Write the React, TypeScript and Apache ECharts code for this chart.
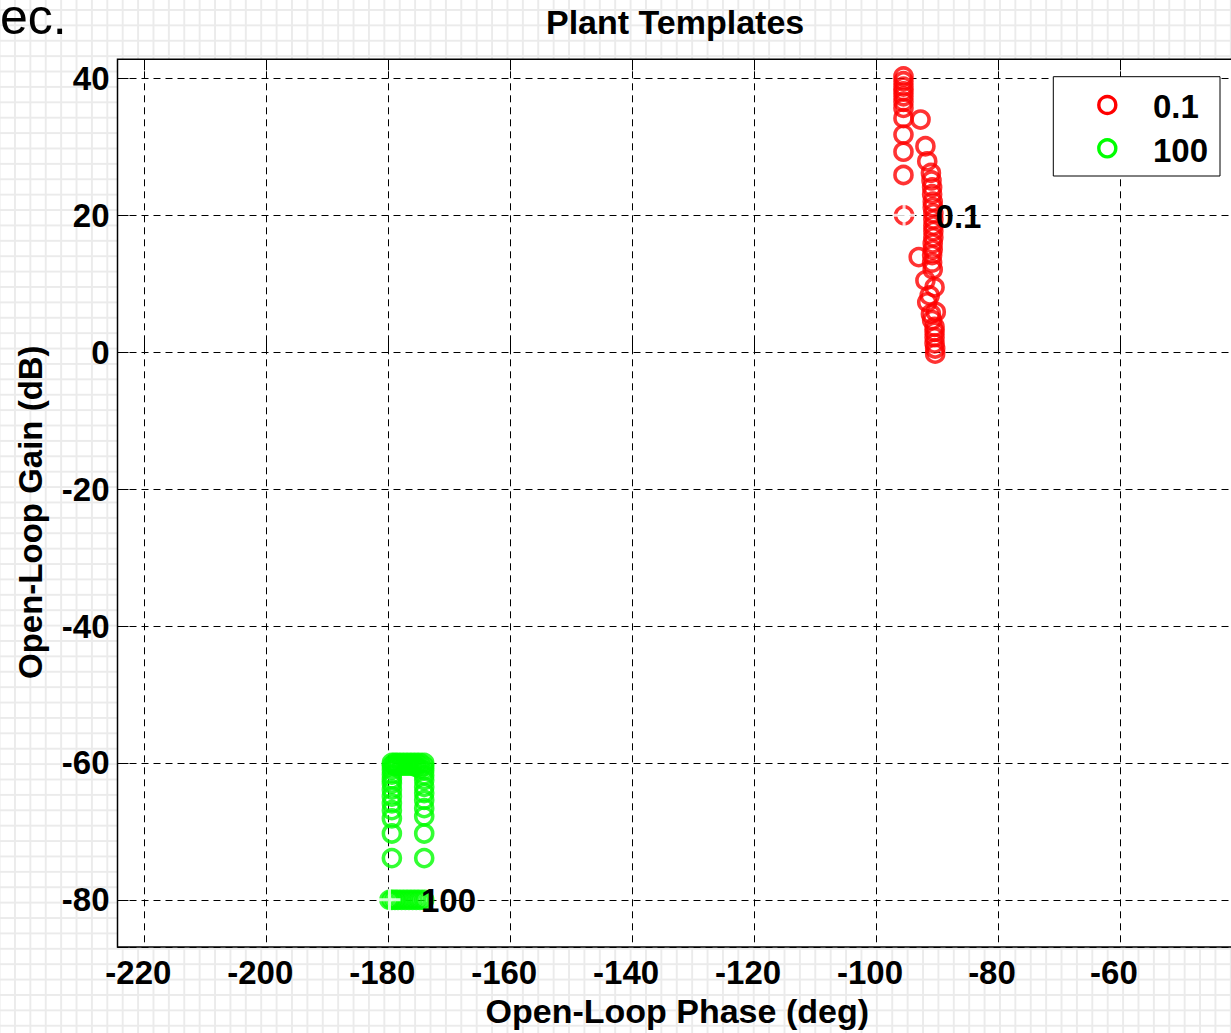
import React, { useEffect, useRef } from "react";
import * as echarts from "echarts";

// Frequency 0.1 template (phase deg, gain dB)
const redPhase = [
  -95.5, -95.5, -95.5, -95.5, -95.5, -95.5, -95.5, -95.5, -95.5, -95.5, -95.5,
  -92.7, -91.9, -91.6, -91.0,
  -90.9, -90.8, -90.8, -90.7, -90.7, -90.6, -90.6, -90.6, -90.6, -90.6, -90.7, -90.7, -90.8, -90.8, -90.7,
  -93.0, -91.9, -90.4, -91.2, -91.6, -90.2, -91.0, -90.8, -90.4, -90.4, -90.4, -90.4, -90.3, -90.3,
  -95.4,
];
const redGain = [
  40.3, 39.6, 38.8, 38.1, 37.4, 36.6, 35.7, 34.2, 31.8, 29.3, 25.9,
  34.0, 30.1, 27.9, 26.2,
  25.1, 24.1, 23.1, 22.0, 21.2, 20.3, 19.4, 18.5, 17.7, 16.8, 15.9, 15.0, 14.2, 13.1, 12.1,
  13.9, 10.5, 9.5, 8.3, 7.3, 5.9, 5.6, 4.7, 3.7, 3.0, 2.2, 1.3, 0.55, -0.2,
  20.0,
];

// Frequency 100 template
const greenPhase = [
  -179.4, -179.4, -179.4, -179.4, -179.4, -179.4, -179.4, -179.4, -179.4, -179.4, -179.4, -179.4, -179.4,
  -174.1, -174.1, -174.1, -174.1, -174.1, -174.1, -174.1, -174.1, -174.1, -174.1, -174.1, -174.1,
  -178.9, -178.4, -177.8, -177.2, -176.6, -176.0, -175.4, -174.8,
  -178.9, -178.4, -177.8, -177.2, -176.6, -176.0, -175.4, -174.8,
  -179.8, -179.4, -178.9, -178.4, -177.8, -177.2, -176.6, -176.0, -175.4, -174.8, -174.1,
];
const greenGain = [
  -60.0, -60.4, -61.0, -61.7, -62.4, -63.0, -63.9, -64.9, -65.9, -66.9, -68.1, -70.3, -73.9,
  -60.0, -60.5, -61.1, -61.8, -62.5, -63.5, -64.4, -65.4, -66.6, -67.8, -70.3, -73.9,
  -60.0, -60.0, -60.0, -60.0, -60.0, -60.0, -60.0, -60.0,
  -60.4, -60.4, -60.4, -60.4, -60.4, -60.4, -60.6, -60.8,
  -80.0, -80.0, -80.0, -80.0, -80.0, -80.0, -80.0, -80.0, -80.0, -80.0, -80.0,
];

const nominalPhase = [-95.4, -179.8];
const nominalGain = [20.0, -80.0];
const nominalLabels = ["0.1", "100"];

const legendNames = ["0.1", "100"];
const seriesColors = ["#ff0000", "#00ff00"];

const xTicks = [-220, -200, -180, -160, -140, -120, -100, -80, -60];
const yTicks = [-80, -60, -40, -20, 0, 20, 40];

const FONT = "'Liberation Sans', Arial, Helvetica, sans-serif";

function zip(a: number[], b: number[]) {
  return a.map((v, i) => [v, b[i]]);
}

export default function App() {
  const ref = useRef<HTMLDivElement>(null);
  useEffect(() => {
    if (!ref.current) return;
    const chart = echarts.init(ref.current, undefined, { renderer: "svg" });
    const onTick = (list: number[]) => (v: number) =>
      list.some((t) => Math.abs(t - v) < 1e-6) ? String(v) : "";
    const circleStyle = (c: string) => ({
      color: "rgba(0,0,0,0)",
      borderColor: c,
      borderWidth: 3.6,
    });
    const axisCommon = {
      splitNumber: 9,
      axisLine: { show: false },
      axisTick: { show: true, inside: true, length: 11, lineStyle: { color: "#000", width: 1 } },
    };
    chart.setOption({
      animation: false,
      backgroundColor: "transparent",
      textStyle: { fontFamily: FONT },
      title: {
        text: "Plant Templates",
        left: 546,
        top: 5,
        padding: 0,
        textStyle: { fontFamily: FONT, fontWeight: "bold", fontSize: 34, color: "#000" },
      },
      grid: {
        show: true,
        left: 117.5,
        right: 1.5,
        top: 59.3,
        bottom: 85.3,
        backgroundColor: "#ffffff",
        borderColor: "#000",
        borderWidth: 1.5,
      },
      xAxis: [
        {
          type: "value",
          min: -224.4,
          max: -40.8,
          ...axisCommon,
          name: "Open-Loop Phase (deg)",
          nameLocation: "middle",
          nameGap: 46,
          nameTextStyle: { fontFamily: FONT, fontWeight: "bold", fontSize: 34, color: "#000" },
          axisLabel: {
            formatter: onTick(xTicks),
            margin: 9,
            padding: [0, 12, 0, 0],
            fontFamily: FONT,
            fontWeight: "bold",
            fontSize: 33,
            color: "#000",
            showMinLabel: true,
            showMaxLabel: true,
          },
          splitLine: { show: true, lineStyle: { type: [7, 5], color: "#000", width: 1 } },
        },
        {
          type: "value",
          position: "top",
          min: -224.4,
          max: -40.8,
          ...axisCommon,
          axisLabel: { show: false },
          splitLine: { show: false },
        },
      ],
      yAxis: {
        type: "value",
        min: -86.9,
        max: 42.8,
        splitNumber: 6,
        axisLine: { show: false },
        axisTick: { show: true, inside: true, length: 11, lineStyle: { color: "#000", width: 1 } },
        name: "Open-Loop Gain (dB)",
        nameLocation: "middle",
        nameGap: 71,
        nameTextStyle: {
          fontFamily: FONT,
          fontWeight: "bold",
          fontSize: 33,
          color: "#000",
          padding: [0, 18, 0, 0],
        },
        axisLabel: {
          formatter: onTick(yTicks),
          margin: 8,
          fontFamily: FONT,
          fontWeight: "bold",
          fontSize: 33,
          color: "#000",
        },
        splitLine: { show: true, lineStyle: { type: [7, 5], color: "#000", width: 1 } },
      },
      series: [
        {
          name: legendNames[0],
          type: "scatter",
          silent: true,
          symbol: "circle",
          symbolSize: 17,
          itemStyle: circleStyle(seriesColors[0]),
          data: zip(redPhase, redGain),
          z: 3,
        },
        {
          name: legendNames[1],
          type: "scatter",
          silent: true,
          symbol: "circle",
          symbolSize: 17,
          itemStyle: circleStyle(seriesColors[1]),
          data: zip(greenPhase, greenGain),
          z: 3,
        },
        {
          name: "nominal",
          type: "scatter",
          silent: true,
          symbol: "path://M0,1 L2,1 M1,0 L1,2",
          symbolSize: 22,
          itemStyle: { color: "rgba(0,0,0,0)", borderColor: "#ffffff", borderWidth: 3 },
          data: zip(nominalPhase, nominalGain),
          z: 4,
        },
      ],
    });

    // Nominal-point labels, positioned through the chart's own scales
    const labelTexts = nominalPhase.map((p, i) => {
      const px = chart.convertToPixel({ xAxisIndex: 0, yAxisIndex: 0 }, [p, nominalGain[i]]) as number[];
      return {
        type: "text",
        x: px[0] + 31.5,
        y: px[1] + 1,
        z: 20,
        silent: true,
        style: {
          text: nominalLabels[i],
          fontFamily: FONT,
          fontWeight: "bold",
          fontSize: 33,
          fill: "#000",
          verticalAlign: "middle",
        },
      };
    });

    chart.setOption({
      graphic: [
        {
          type: "text",
          x: 0,
          y: 16.5,
          silent: true,
          style: {
            text: "ec.",
            fontFamily: FONT,
            fontSize: 50,
            lineHeight: 30,
            fill: "#000",
            verticalAlign: "middle",
          },
        },
        ...labelTexts,
        {
          type: "group",
          x: 1053.3,
          y: 76.7,
          z: 10,
          children: [
            {
              type: "rect",
              shape: { x: 0, y: 0, width: 166.7, height: 99.3 },
              style: { fill: "#fff", stroke: "#000", lineWidth: 1 },
            },
            {
              type: "circle",
              shape: { cx: 54, cy: 28.3, r: 8.5 },
              style: { fill: "none", stroke: seriesColors[0], lineWidth: 3.4 },
            },
            {
              type: "circle",
              shape: { cx: 54, cy: 71.6, r: 8.5 },
              style: { fill: "none", stroke: seriesColors[1], lineWidth: 3.4 },
            },
            {
              type: "text",
              x: 99.7,
              y: 30,
              style: {
                text: legendNames[0],
                fontFamily: FONT,
                fontWeight: "bold",
                fontSize: 33,
                fill: "#000",
                verticalAlign: "middle",
              },
            },
            {
              type: "text",
              x: 99.7,
              y: 74,
              style: {
                text: legendNames[1],
                fontFamily: FONT,
                fontWeight: "bold",
                fontSize: 33,
                fill: "#000",
                verticalAlign: "middle",
              },
            },
          ],
        },
      ],
    });
    return () => chart.dispose();
  }, []);

  return (
    <div
      style={{
        position: "absolute",
        left: 0,
        top: 0,
        width: 1231,
        height: 1033,
        overflow: "hidden",
        backgroundColor: "#fff",
        backgroundImage:
          "linear-gradient(to right, #ebebeb 2px, transparent 2px), linear-gradient(to bottom, #ebebeb 2px, transparent 2px)",
        backgroundSize: "15.4px 15.4px",
        backgroundPosition: "14px 9px",
      }}
    >
      <div ref={ref} style={{ position: "absolute", left: 0, top: 0, width: 1240, height: 1033 }} />
    </div>
  );
}
